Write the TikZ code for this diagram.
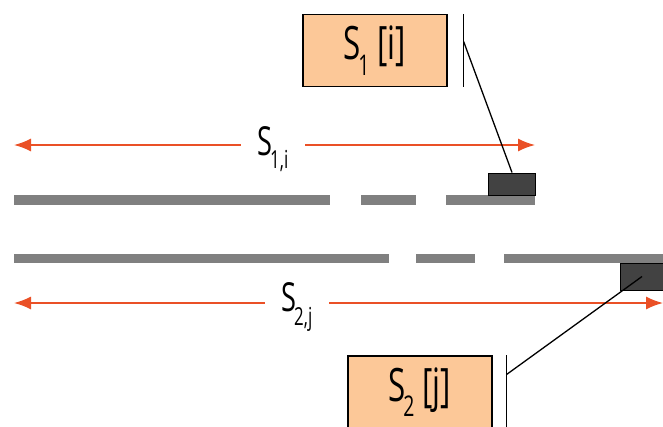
\documentclass[tikz,border=0pt]{standalone}
\usepackage{fontspec}
\setmainfont{Open Sans}[FakeStretch=0.68]
\usetikzlibrary{arrows.meta, positioning, calc}
\definecolor{cA}{RGB}{234,80,38}
\definecolor{cB}{RGB}{252,200,152}
\definecolor{cG}{RGB}{128,128,128}
\definecolor{cK}{RGB}{66,66,66}
% low index, set under the baseline
\newcommand{\lowidx}[1]{\kern-0.06em\raisebox{-0.34em}{\fontsize{0.62em}{0.62em}\selectfont #1}}

\begin{document}
\begin{tikzpicture}[x=1pt, y=-1pt,
    track/.style={cG, line width=9.5pt},
    dist/.style={cA, line width=1.5pt, -{Latex[length=17pt, width=13pt]}},
    tag/.style={draw=black, line width=1pt, fill=cK, minimum width=47pt, minimum height=22pt, inner sep=0pt},
    reg/.style={draw=black, fill=cB, line width=1.4pt, minimum width=144pt, minimum height=72pt, font=\fontsize{46}{46}\selectfont},
    lbl/.style={font=\fontsize{40}{40}\selectfont, inner xsep=17pt, inner ysep=0pt},
    lead/.style={black, line width=1.3pt}]
    \clip (0,0) rectangle (663,426);

    % the two tracks
    \foreach \a/\b in {14/330, 361/416, 446/535}
        \draw[track] (\a,200) -- (\b,200);
    \foreach \a/\b in {14/389, 416/475, 504/670}
        \draw[track] (\a,258.5) -- (\b,258.5);
    \node[tag] (tag1) at (512,184) {};
    \node[tag, minimum width=44pt, minimum height=27pt] (tag2) at (642,276.5) {};

    % distances
    \node[lbl] (lbl1) at (273,149) {S\lowidx{1,i}};
    \node[lbl] (lbl2) at (297,307) {S\lowidx{2,j}};
    \coordinate (l1) at (14,145);
    \coordinate (r1) at (535,145);
    \coordinate (l2) at (14,303);
    \coordinate (r2) at (663,303);
    \draw[dist] (lbl1.west |- l1) -- (l1);
    \draw[dist] (lbl1.east |- r1) -- (r1);
    \draw[dist] (lbl2.west |- l2) -- (l2);
    \draw[dist] (lbl2.east |- r2) -- (r2);

    % registers
    \node[reg] (reg1) at (375,50.5) {S\lowidx{1} [i]};
    \node[reg] (reg2) at (420,392) {S\lowidx{2} [j]};
    \coordinate[right=16pt of reg1.north east] (b1t);
    \coordinate[right=16pt of reg1.south east] (b1b);
    \coordinate[right=14pt of reg2.north east] (b2t);
    \coordinate[right=14pt of reg2.south east] (b2b);
    \draw[lead] (b1t) -- (b1b);
    \draw[lead] (b2t) -- (b2b);
    \draw[lead] ($(b1t)!0.38!(b1b)$) -- (tag1.north);
    \draw[lead] ($(b2t)!0.26!(b2b)$) -- (tag2.center);
\end{tikzpicture}
\end{document}
